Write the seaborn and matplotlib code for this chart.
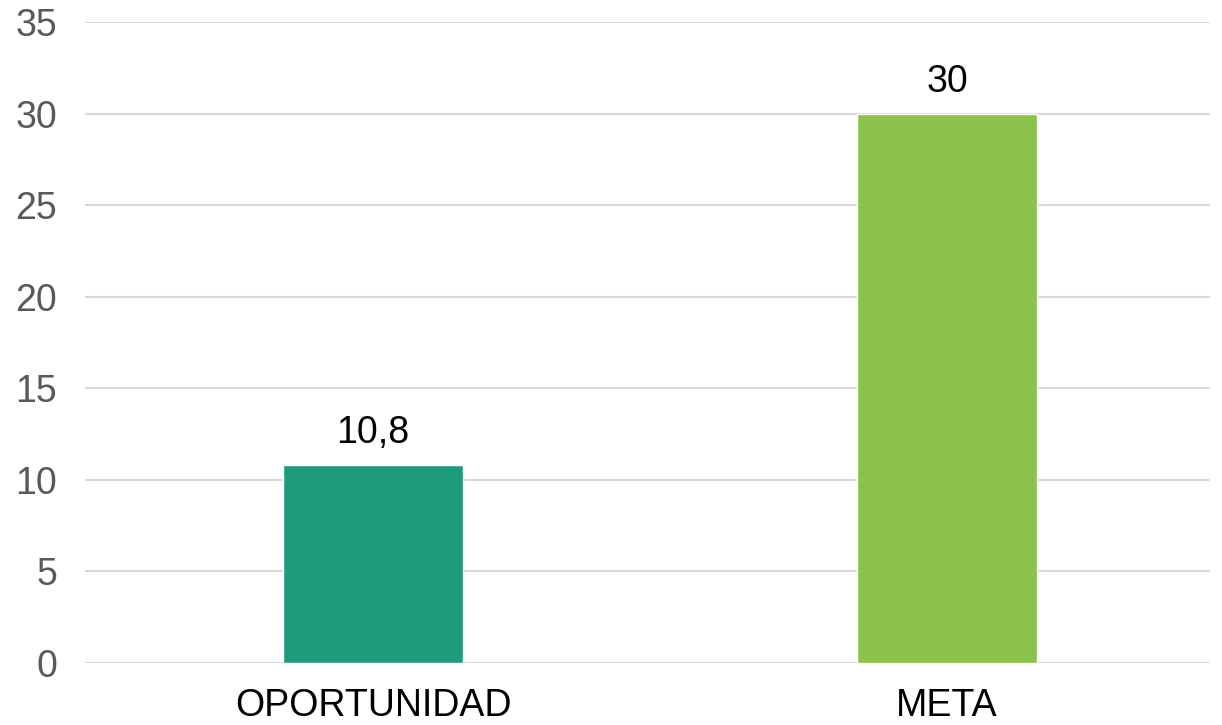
import matplotlib
matplotlib.use('Agg')
import matplotlib.pyplot as plt
import seaborn as sns
import pandas as pd

# datos del grafico
categorias = ['OPORTUNIDAD', 'META']
valores = [10.8, 30]
colores = ['#1E9B7B', '#8BC34A']
etiquetas = ['10,8', '30']

sns.set_style('white')
plt.rcParams['font.family'] = ['Liberation Sans', 'DejaVu Sans']

df = pd.DataFrame({'categoria': categorias, 'valor': valores})

fig = plt.figure(figsize=(12.22, 7.25), dpi=100)
ax = fig.add_axes([0.0696, 0.0855, 0.9204, 0.8842])
sns.barplot(data=df, x='categoria', y='valor', hue='categoria', palette=colores,
            width=0.314, legend=False, ax=ax, saturation=1)

ax.set_xlim(-0.502, 1.458)
ax.set_ylim(0, 35)
ax.set_yticks(range(0, 36, 5))
ax.yaxis.grid(True, color='#D9D9D9', linewidth=1.5)
ax.set_axisbelow(True)
for s in ax.spines.values():
    s.set_visible(False)
ax.set_xlabel('')
ax.set_ylabel('')
ax.tick_params(axis='y', labelsize=27, colors='#595959', length=0, pad=20)
ax.tick_params(axis='x', labelsize=27, colors='black', length=0, pad=18)

# etiquetas de datos
for cont, lab in zip(ax.containers, etiquetas):
    ax.bar_label(cont, labels=[lab], fontsize=27, padding=10, color='black')

fig.savefig('out.png', dpi=100)
